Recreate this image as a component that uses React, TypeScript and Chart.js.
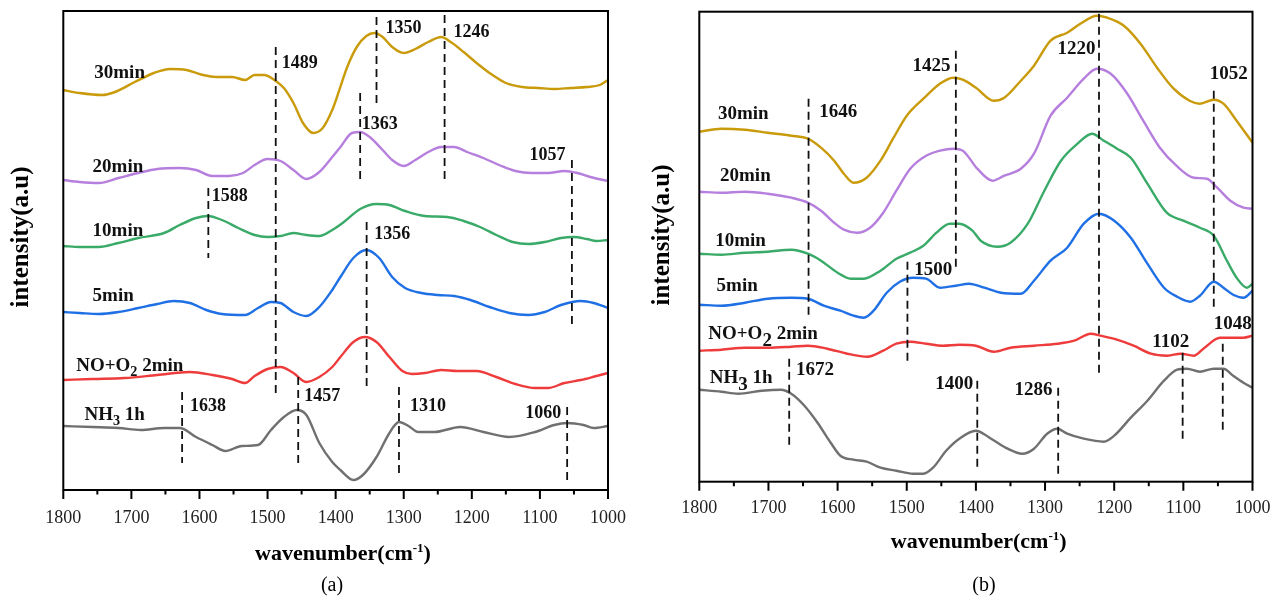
import React, { useEffect, useRef } from 'react';
import { Chart, registerables } from 'chart.js';

Chart.register(...registerables);

const FONT = '"Liberation Serif", "Times New Roman", serif';

// ---------------- Panel (a) data: wavenumber / intensity (a.u.) ----------------
const a30Wn = [1800,1776,1743,1724,1695,1667,1643,1619,1595,1576,1552,1533,1519,1505,1490,1476,1462,1448,1433,1419,1405,1398,1383,1369,1355,1343,1331,1317,1300,1283,1264,1245,1231,1212,1193,1174,1150,1126,1102,1079,1055,1031,1012,1000];
const a30Val = [400,397,395,398,408,417,421,420,415,413,413,410,415,415,410,402,387,367,357,362,380,393,423,443,454,457,453,443,437,441,448,453,448,438,427,417,407,403,402,401,402,403,405,410];

const a20Wn = [1800,1776,1748,1719,1690,1662,1629,1605,1581,1557,1536,1519,1500,1481,1462,1443,1424,1405,1393,1376,1364,1350,1331,1317,1300,1283,1264,1245,1226,1207,1183,1160,1136,1112,1088,1064,1045,1026,1000];
const a20Val = [310,308,307,312,317,321,322,320,314,314,317,325,331,329,320,311,318,333,343,357,358,353,340,330,324,330,338,343,343,338,332,325,319,317,317,319,317,313,309];

const a10Wn = [1800,1776,1748,1719,1690,1652,1629,1605,1588,1567,1543,1519,1500,1481,1462,1443,1424,1405,1388,1364,1340,1321,1298,1269,1236,1212,1188,1164,1140,1117,1093,1069,1050,1031,1017,1000];
const a10Val = [244,243,243,247,252,257,265,272,274,270,262,255,253,254,257,255,254,260,268,281,286,285,279,274,273,269,263,255,248,246,248,252,253,251,249,250];

const a5Wn = [1800,1776,1748,1719,1690,1662,1638,1614,1590,1567,1533,1514,1495,1481,1462,1443,1424,1405,1393,1374,1355,1336,1317,1298,1274,1250,1226,1202,1174,1145,1117,1093,1069,1040,1021,1000];
const a5Val = [178,177,176,178,182,186,189,187,180,176,175,182,188,187,178,174,183,200,213,232,240,232,213,202,197,195,194,190,183,177,175,178,185,189,187,182];

const aNoWn = [1800,1757,1710,1662,1614,1581,1552,1533,1519,1500,1481,1462,1443,1424,1405,1393,1374,1357,1340,1321,1302,1288,1269,1245,1221,1193,1164,1136,1107,1088,1064,1040,1017,1000];
const aNoVal = [110,111,112,115,118,115,111,107,114,121,123,117,108,113,123,133,148,153,148,133,119,116,117,120,119,119,113,106,102,102,107,110,114,117];

const aNhWn = [1800,1757,1719,1686,1652,1629,1605,1581,1562,1538,1514,1495,1476,1457,1443,1424,1405,1393,1374,1360,1340,1321,1307,1293,1279,1255,1217,1183,1145,1107,1079,1060,1036,1021,1000];
const aNhVal = [64,63,62,60,62,62,53,45,39,44,45,60,73,80,75,47,28,20,10,15,33,57,68,64,58,58,63,58,53,58,65,67,65,62,64];

// ---------------- Panel (b) data ----------------
const b30Wn = [1800,1768,1734,1701,1667,1643,1624,1605,1591,1577,1558,1538,1519,1500,1476,1452,1433,1419,1400,1374,1359,1335,1316,1292,1268,1249,1225,1210,1186,1162,1138,1114,1091,1076,1056,1042,1023,1000];
const b30Val = [350,353,352,349,346,343,334,321,308,299,304,321,344,366,383,398,404,402,394,381,384,401,416,441,449,458,466,464,456,438,414,393,381,378,382,378,361,339];

const b20Wn = [1800,1768,1734,1701,1667,1643,1624,1605,1591,1572,1553,1534,1515,1495,1472,1452,1433,1419,1398,1376,1359,1335,1316,1292,1268,1244,1225,1205,1182,1158,1134,1110,1085,1066,1051,1032,1013,1000];
const b20Val = [290,289,290,288,284,279,271,259,252,249,254,269,291,313,326,331,333,331,313,301,306,313,328,366,384,403,413,408,389,361,334,316,304,303,294,281,274,273];

const b10Wn = [1800,1768,1734,1701,1667,1643,1624,1600,1581,1562,1538,1515,1495,1476,1457,1438,1424,1405,1393,1369,1350,1325,1301,1277,1253,1232,1215,1196,1176,1152,1124,1100,1076,1056,1037,1023,1008,1000];
const b10Val = [228,227,229,230,232,228,221,209,203,203,211,223,229,236,249,258,258,251,241,235,239,258,291,321,338,348,341,333,324,298,269,261,254,246,221,204,194,198];

const b5Wn = [1800,1768,1734,1701,1667,1643,1620,1596,1577,1562,1548,1529,1510,1491,1472,1452,1429,1410,1388,1364,1335,1316,1292,1268,1244,1222,1200,1176,1152,1128,1109,1090,1076,1056,1042,1028,1013,1000];
const b5Val = [177,176,179,183,184,183,176,171,166,164,171,189,200,204,203,194,196,198,194,189,188,201,221,234,258,268,261,244,218,194,185,180,186,200,194,187,184,191];

const bNoWn = [1800,1768,1734,1701,1667,1643,1615,1586,1557,1534,1515,1495,1472,1448,1424,1400,1374,1350,1316,1282,1258,1234,1220,1196,1172,1147,1123,1104,1085,1071,1047,1028,1013,1000];
const bNoVal = [131,132,134,134,135,136,133,128,125,131,138,140,138,136,137,136,130,134,136,138,141,148,146,142,136,128,126,128,126,133,144,144,144,146];

const bNhWn = [1800,1768,1744,1710,1682,1667,1648,1629,1610,1596,1577,1558,1538,1515,1491,1476,1462,1443,1424,1400,1378,1354,1333,1316,1297,1282,1268,1244,1215,1200,1176,1152,1128,1109,1095,1076,1056,1042,1028,1013,1000];
const bNhVal = [92,90,88,91,92,88,76,59,39,26,22,20,14,11,8,8,14,31,43,51,43,33,28,33,48,53,48,43,40,46,64,81,101,112,113,110,113,113,106,99,94];

// ---------------- Series names / colours ----------------
const SERIES_NAMES = ['30min', '20min', '10min', '5min', 'NO+O2 2min', 'NH3 1h'];
const SERIES_COLORS = ['#C99A0A', '#B67FDE', '#3AAA68', '#1F6FE5', '#EE3B3B', '#707070'];

type Part = { t: string; sub?: boolean };
const SERIES_LABEL_PARTS: Part[][] = [
  [{ t: '30min' }],
  [{ t: '20min' }],
  [{ t: '10min' }],
  [{ t: '5min' }],
  [{ t: 'NO+O' }, { t: '2', sub: true }, { t: ' 2min' }],
  [{ t: 'NH' }, { t: '3', sub: true }, { t: ' 1h' }],
];

// ---------------- Peak markers (labels) ----------------
const aMarkText = ['1489', '1588', '1638', '1457', '1350', '1246', '1363', '1356', '1057', '1310', '1060'];
const bMarkText = ['1646', '1425', '1500', '1672', '1400', '1220', '1052', '1102', '1048', '1286'];

type Mark = { text: string; at: number; from: number; to: number; ty: number; side: 'l' | 'r' | 'c'; dx: number };

const aMarkGeom: Omit<Mark, 'text'>[] = [
  { at: 1488, from: 92, to: 443, ty: 428, side: 'r', dx: 6 },
  { at: 1587, from: 232, to: 302, ty: 295, side: 'r', dx: 3.5 },
  { at: 1625.5, from: 27, to: 98, ty: 85, side: 'r', dx: 8 },
  { at: 1455, from: 23, to: 113, ty: 95, side: 'r', dx: 6 },
  { at: 1340, from: 383, to: 473, ty: 463, side: 'r', dx: 9 },
  { at: 1240, from: 308, to: 475, ty: 459, side: 'r', dx: 9 },
  { at: 1364, from: 307, to: 397, ty: 367, side: 'r', dx: 1.5 },
  { at: 1354.5, from: 103, to: 268, ty: 257, side: 'r', dx: 7.5 },
  { at: 1053, from: 163, to: 330, ty: 336, side: 'l', dx: -6.5 },
  { at: 1307, from: 12, to: 103, ty: 85, side: 'r', dx: 11 },
  { at: 1060, from: 8, to: 83, ty: 78, side: 'l', dx: -6 },
];
const bMarkGeom: Omit<Mark, 'text'>[] = [
  { at: 1642, from: 166, to: 383, ty: 371, side: 'r', dx: 10.7 },
  { at: 1429, from: 214, to: 431, ty: 417, side: 'l', dx: -5.4 },
  { at: 1499, from: 116, to: 220, ty: 213, side: 'r', dx: 6.7 },
  { at: 1670, from: 34, to: 123, ty: 113, side: 'r', dx: 6.7 },
  { at: 1398, from: 14, to: 101, ty: 99, side: 'l', dx: -4 },
  { at: 1222, from: 109, to: 468, ty: 434, side: 'l', dx: -3.4 },
  { at: 1056, from: 171, to: 391, ty: 409, side: 'c', dx: 15 },
  { at: 1101, from: 39, to: 129, ty: 141, side: 'c', dx: -12 },
  { at: 1043, from: 49, to: 138, ty: 159, side: 'c', dx: 10 },
  { at: 1281, from: 8, to: 94, ty: 93, side: 'l', dx: -5.7 },
];

// series label anchors: [wavenumber, intensity]
const aLabelWn = [1754.5, 1757, 1757, 1757, 1781, 1769];
const aLabelVal = [418, 324, 260, 195, 125, 76];
const bLabelWn = [1773, 1770, 1777, 1775, 1787, 1785];
const bLabelVal = [369, 307, 242, 197, 149, 105];

const X_MIN = 1000;
const X_MAX = 1800;
const X_STEP = 100;
const Y_TITLE = 'intensity(a.u)';

interface PanelCfg {
  left: number;
  pad: { left: number; right: number; top: number; bottom: number };
  yMax: number;
  tickPad: number;
  series: { wn: number[]; val: number[] }[];
  labelWn: number[];
  labelVal: number[];
  marks: Mark[];
  markFont: number;
  yTitleX: number;
  yTitleY: number;
  xTitleX: number;
  xTitleBase: number;
  caption: string;
  capX: number;
  capBase: number;
  subScale: number;
  subShift: number;
}

function makeDecor(cfg: PanelCfg) {
  return {
    id: 'decor',
    afterDatasetsDraw(chart: any) {
      const { ctx, chartArea: a, scales } = chart;
      const xs = scales.x;
      const ys = scales.y;
      ctx.save();

      // dashed peak markers
      ctx.strokeStyle = '#111';
      ctx.lineWidth = 1.8;
      ctx.setLineDash([8, 5]);
      for (const m of cfg.marks) {
        const x = xs.getPixelForValue(m.at);
        ctx.beginPath();
        ctx.moveTo(x, ys.getPixelForValue(m.to));
        ctx.lineTo(x, ys.getPixelForValue(m.from));
        ctx.stroke();
      }
      ctx.setLineDash([]);

      // frame
      ctx.strokeStyle = '#000';
      ctx.lineWidth = 2;
      ctx.strokeRect(a.left, a.top, a.right - a.left, a.bottom - a.top);

      // tick marks (major at labelled ticks, minor halfway)
      const tickVals: number[] = xs.ticks.map((t: any) => t.value);
      ctx.beginPath();
      for (const v of tickVals) {
        const x = xs.getPixelForValue(v);
        ctx.moveTo(x, a.bottom);
        ctx.lineTo(x, a.bottom + 9);
        if (v + X_STEP / 2 < X_MAX + 1e-6) {
          const xm = xs.getPixelForValue(v + X_STEP / 2);
          ctx.moveTo(xm, a.bottom);
          ctx.lineTo(xm, a.bottom + 4.5);
        }
      }
      ctx.stroke();

      // peak labels
      ctx.fillStyle = '#111';
      ctx.textBaseline = 'alphabetic';
      ctx.font = `bold ${cfg.markFont}px ${FONT}`;
      for (const m of cfg.marks) {
        const x = xs.getPixelForValue(m.at) + m.dx;
        ctx.textAlign = m.side === 'r' ? 'left' : m.side === 'l' ? 'right' : 'center';
        ctx.fillText(m.text, x, ys.getPixelForValue(m.ty) + 0.33 * cfg.markFont);
      }

      // series labels
      ctx.textAlign = 'left';
      const size = 19;
      SERIES_LABEL_PARTS.forEach((parts, i) => {
        let x = xs.getPixelForValue(cfg.labelWn[i]);
        const base = ys.getPixelForValue(cfg.labelVal[i]) + 0.33 * size;
        for (const p of parts) {
          const s = p.sub ? size * cfg.subScale : size;
          ctx.font = `bold ${s}px ${FONT}`;
          ctx.fillText(p.t, x, base + (p.sub ? cfg.subShift : 0));
          x += ctx.measureText(p.t).width;
        }
      });

      // x axis title with superscript
      const tSize = 22;
      const sSize = 13;
      const p1 = 'wavenumber(cm';
      const p2 = '-1';
      const p3 = ')';
      ctx.font = `bold ${tSize}px ${FONT}`;
      const w1 = ctx.measureText(p1).width;
      const w3 = ctx.measureText(p3).width;
      ctx.font = `bold ${sSize}px ${FONT}`;
      const w2 = ctx.measureText(p2).width;
      let tx = cfg.xTitleX - (w1 + w2 + w3) / 2;
      ctx.fillStyle = '#000';
      ctx.font = `bold ${tSize}px ${FONT}`;
      ctx.fillText(p1, tx, cfg.xTitleBase);
      tx += w1;
      ctx.font = `bold ${sSize}px ${FONT}`;
      ctx.fillText(p2, tx, cfg.xTitleBase - 8);
      tx += w2;
      ctx.font = `bold ${tSize}px ${FONT}`;
      ctx.fillText(p3, tx, cfg.xTitleBase);

      // caption
      ctx.font = `20px ${FONT}`;
      ctx.textAlign = 'center';
      ctx.fillText(cfg.caption, cfg.capX, cfg.capBase);

      // y axis title
      ctx.save();
      ctx.translate(cfg.yTitleX, cfg.yTitleY);
      ctx.rotate(-Math.PI / 2);
      ctx.font = `bold 25px ${FONT}`;
      ctx.textAlign = 'center';
      ctx.textBaseline = 'alphabetic';
      ctx.fillText(Y_TITLE, 0, 0);
      ctx.restore();

      ctx.restore();
    },
  };
}

function Panel({ cfg }: { cfg: PanelCfg }) {
  const ref = useRef<HTMLCanvasElement>(null);
  useEffect(() => {
    const canvas = ref.current!;
    const chart = new Chart(canvas, {
      type: 'line',
      data: {
        datasets: cfg.series.map((s, i) => ({
          label: SERIES_NAMES[i],
          data: s.wn.map((w, j) => ({ x: w, y: s.val[j] })),
          borderColor: SERIES_COLORS[i],
          backgroundColor: SERIES_COLORS[i],
          borderWidth: 2.4,
          pointRadius: 0,
          fill: false,
          cubicInterpolationMode: 'monotone',
        })),
      },
      options: {
        responsive: false,
        animation: false,
        devicePixelRatio: 1,
        events: [],
        layout: { padding: cfg.pad },
        plugins: {
          legend: { display: false },
          tooltip: { enabled: false },
          title: { display: false },
        },
        scales: {
          x: {
            type: 'linear',
            reverse: true,
            min: X_MIN,
            max: X_MAX,
            grid: { display: false, drawTicks: false },
            border: { display: false },
            ticks: {
              stepSize: X_STEP,
              autoSkip: false,
              maxRotation: 0,
              padding: cfg.tickPad,
              color: '#222',
              font: { family: FONT, size: 18 },
              callback: (v: any) => String(v),
            },
            afterFit: (s: any) => {
              s.height = 60;
            },
          },
          y: { type: 'linear', display: false, min: 0, max: cfg.yMax },
        },
      } as any,
      plugins: [makeDecor(cfg)],
    });
    return () => chart.destroy();
  }, [cfg]);
  return (
    <canvas
      ref={ref}
      width={643}
      height={601}
      style={{ position: 'absolute', left: cfg.left, top: 0, width: 643, height: 601 }}
    />
  );
}

const panelA: PanelCfg = {
  left: 0,
  pad: { left: 63.3, right: 22, top: 11, bottom: 51 },
  yMax: 479,
  tickPad: 17,
  series: [
    { wn: a30Wn, val: a30Val },
    { wn: a20Wn, val: a20Val },
    { wn: a10Wn, val: a10Val },
    { wn: a5Wn, val: a5Val },
    { wn: aNoWn, val: aNoVal },
    { wn: aNhWn, val: aNhVal },
  ],
  labelWn: aLabelWn,
  labelVal: aLabelVal,
  marks: aMarkGeom.map((g, i) => ({ ...g, text: aMarkText[i] })),
  markFont: 18,
  yTitleX: 28,
  yTitleY: 237,
  xTitleX: 343,
  xTitleBase: 560,
  caption: '(a)',
  capX: 332,
  capBase: 591,
  subScale: 0.75,
  subShift: 4.5,
};

const panelB: PanelCfg = {
  left: 643,
  pad: { left: 56.3, right: 30, top: 11.7, bottom: 59.3 },
  yMax: 470,
  tickPad: 15.5,
  series: [
    { wn: b30Wn, val: b30Val },
    { wn: b20Wn, val: b20Val },
    { wn: b10Wn, val: b10Val },
    { wn: b5Wn, val: b5Val },
    { wn: bNoWn, val: bNoVal },
    { wn: bNhWn, val: bNhVal },
  ],
  labelWn: bLabelWn,
  labelVal: bLabelVal,
  marks: bMarkGeom.map((g, i) => ({ ...g, text: bMarkText[i] })),
  markFont: 19,
  yTitleX: 25.5,
  yTitleY: 235,
  xTitleX: 335.7,
  xTitleBase: 548,
  caption: '(b)',
  capX: 341,
  capBase: 591,
  subScale: 1.0,
  subShift: 7,
};

export default function App() {
  return (
    <div
      style={{
        position: 'absolute',
        left: 0,
        top: 0,
        width: 1286,
        height: 601,
        background: '#fff',
        overflow: 'hidden',
      }}
    >
      <Panel cfg={panelA} />
      <Panel cfg={panelB} />
    </div>
  );
}
